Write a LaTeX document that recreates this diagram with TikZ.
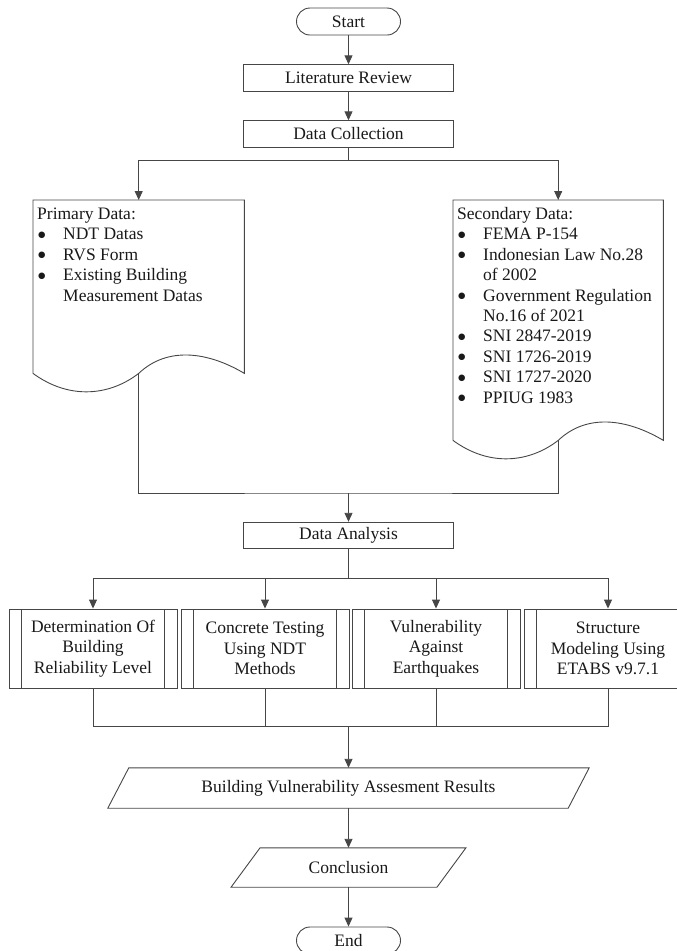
\documentclass[tikz,border=0pt]{standalone}
\usepackage{fontspec}
\setmainfont{Liberation Serif}
\newfontfamily\symfont{DejaVu Sans}
\usetikzlibrary{arrows.meta,positioning}
\definecolor{flowline}{RGB}{70,70,70}
\definecolor{flowtext}{RGB}{25,25,25}
\newcommand{\bul}{\hspace{1pt}\raisebox{2.6pt}{\symfont\fontsize{8.5}{8.5}\selectfont ●}}

\begin{document}
\begin{tikzpicture}[
  x=1pt, y=-1pt,
  font=\fontsize{17.5}{20.4}\selectfont,
  text=flowtext,
  >={Triangle[length=9pt,width=8pt]},
  line/.style={draw=flowline,line width=0.9pt},
  flow/.style={line,->},
  term/.style={line,rounded corners=13.5pt,minimum width=104pt,
    minimum height=27pt,inner sep=0pt},
  proc/.style={line,minimum width=210pt,minimum height=26.5pt,inner sep=0pt},
  subproc/.style={line,minimum width=168pt,minimum height=79pt,align=center,
    inner sep=0pt,
    path picture={
      \draw[line] ([xshift=12.5pt]path picture bounding box.north west)
        -- ([xshift=12.5pt]path picture bounding box.south west);
      \draw[line] ([xshift=-12.5pt]path picture bounding box.north east)
        -- ([xshift=-12.5pt]path picture bounding box.south east);}},
  io/.style={minimum height=40pt,inner sep=0pt},
  doc/.style={anchor=north west,inner sep=0pt},
  list/.style={anchor=north west,inner sep=0pt,align=left}
]
  \useasboundingbox (0,0) rectangle (677,951);
  \clip (0,0) rectangle (677,951);

  \node[term] (start) at (348.5,21.5) {Start};
  \node[proc] (lit) at (348.5,78) {Literature Review};
  \node[proc] (dc) at (348.5,134) {Data Collection};
  \draw[flow] (start) -- (lit);
  \draw[flow] (lit) -- (dc);

  % document shapes
  \node[doc,minimum width=211pt,minimum height=173pt] (primary) at (33,200) {};
  \draw[line] (primary.south west) -- (primary.north west)
    -- (primary.north east) -- (primary.south east)
    .. controls +(-37,-22) and +(28.5,-27) .. (primary.south)
    .. controls +(-28.5,22) and +(37,27) .. (primary.south west);
  \node[list] (primarytxt) at ([xshift=4pt,yshift=-5pt]primary.north west)
    {\begin{tabular}{@{}p{26pt}@{}l@{}}
      \multicolumn{2}{@{}l@{}}{Primary Data:}\\
      \bul & NDT Datas\\
      \bul & RVS Form\\
      \bul & Existing Building\\
      & Measurement Datas
    \end{tabular}};

  \node[doc,minimum width=210pt,minimum height=240pt] (secondary) at (453,200) {};
  \draw[line] (secondary.south west) -- (secondary.north west)
    -- (secondary.north east) -- (secondary.south east)
    .. controls +(-37,-22) and +(28.5,-27) .. (secondary.south)
    .. controls +(-28.5,22) and +(37,27) .. (secondary.south west);
  \node[list] (secondarytxt) at ([xshift=4pt,yshift=-5pt]secondary.north west)
    {\begin{tabular}{@{}p{26pt}@{}l@{}}
      \multicolumn{2}{@{}l@{}}{Secondary Data:}\\
      \bul & FEMA P-154\\
      \bul & Indonesian Law No.28\\
      & of 2002\\
      \bul & Government Regulation\\
      & No.16 of 2021\\
      \bul & SNI 2847-2019\\
      \bul & SNI 1726-2019\\
      \bul & SNI 1727-2020\\
      \bul & PPIUG 1983
    \end{tabular}};

  \coordinate (split) at (348.5,160);
  \draw[line] (dc) -- (split);
  \draw[flow] (split) -| (primary.north);
  \draw[flow] (split) -| (secondary.north);

  \node[proc] (da) at (348.5,535.5) {Data Analysis};
  \coordinate (merge) at (348.5,493);
  \draw[line] (primary.south) |- (merge) -| (secondary.south);
  \draw[flow] (merge) -- (da);

  % analysis steps
  \node[subproc] (reliab) at (93,648.5) {Determination Of\\Building\\Reliability Level};
  \node[subproc] (ndt) at (265,648.5) {Concrete Testing\\Using NDT\\Methods};
  \node[subproc] (vuln) at (436,648.5) {Vulnerability\\Against\\Earthquakes};
  \node[subproc] (etabs) at (608,648.5) {Structure\\Modeling Using\\ETABS v9.7.1};

  \coordinate (fan) at (348.5,578);
  \draw[line] (da) -- (fan);
  \draw[flow] (fan) -| (reliab.north);
  \draw[flow] (fan) -| (ndt.north);
  \draw[flow] (fan) -| (vuln.north);
  \draw[flow] (fan) -| (etabs.north);

  \coordinate (join) at (348.5,726);
  \draw[line] (reliab.south) |- (join) -| (etabs.south);
  \draw[line] (ndt.south) -- (ndt.south |- join);
  \draw[line] (vuln.south) -- (vuln.south |- join);

  \node[io,minimum width=460pt] (results) at (348.5,788)
    {Building Vulnerability Assesment Results};
  \draw[line] ([xshift=10.5pt]results.north west) -- ([xshift=10.5pt]results.north east)
    -- ([xshift=-10.5pt]results.south east) -- ([xshift=-10.5pt]results.south west) -- cycle;
  \draw[flow] (join) -- (results.north);

  \node[io,minimum width=205.5pt,minimum height=39pt] (concl) at (348.5,867.5) {Conclusion};
  \draw[line] ([xshift=14.5pt]concl.north west) -- ([xshift=14.5pt]concl.north east)
    -- ([xshift=-14.5pt]concl.south east) -- ([xshift=-14.5pt]concl.south west) -- cycle;
  \draw[flow] (results.south) -- (concl.north);

  \node[term] (end) at (348.5,940.5) {End};
  \draw[flow] (concl.south) -- (end);
\end{tikzpicture}
\end{document}
